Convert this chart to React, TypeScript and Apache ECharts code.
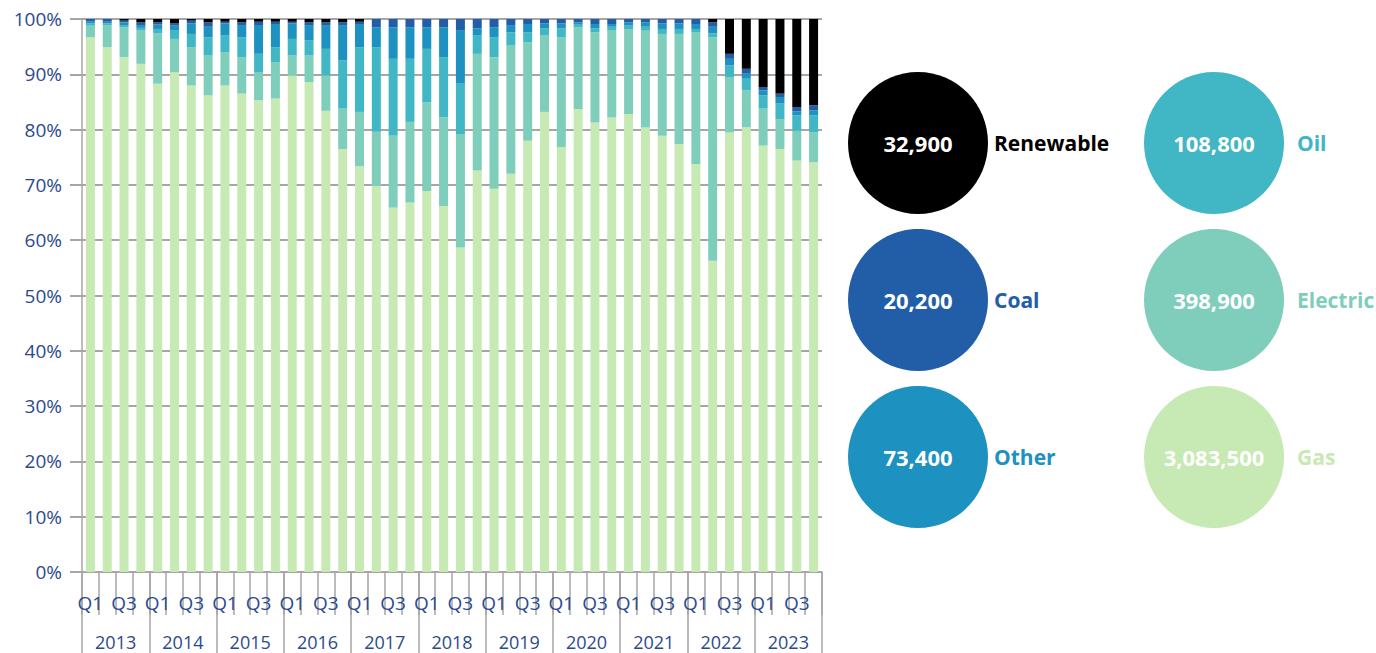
import React, { useEffect, useRef } from "react";
import * as echarts from "echarts";

const years = ["2013", "2014", "2015", "2016", "2017", "2018", "2019", "2020", "2021", "2022", "2023"];
const quarterLabels = [
  "Q1", "Q2", "Q3", "Q4", "Q1", "Q2", "Q3", "Q4", "Q1", "Q2", "Q3", "Q4",
  "Q1", "Q2", "Q3", "Q4", "Q1", "Q2", "Q3", "Q4", "Q1", "Q2", "Q3", "Q4",
  "Q1", "Q2", "Q3", "Q4", "Q1", "Q2", "Q3", "Q4", "Q1", "Q2", "Q3", "Q4",
  "Q1", "Q2", "Q3", "Q4", "Q1", "Q2", "Q3", "Q4",
];
const yTicks = [0, 10, 20, 30, 40, 50, 60, 70, 80, 90, 100];

// share of each quarter (%)
const gas = [96.7, 94.9, 93.1, 91.9, 88.3, 90.4, 88.0, 86.2, 88.0, 86.5, 85.3, 85.6, 89.8, 88.6, 83.4, 76.5, 73.4, 69.8, 65.9, 66.8, 68.9, 66.2, 58.7, 72.6, 69.3, 72.0, 78.0, 83.2, 76.8, 83.7, 81.3, 82.2, 82.8, 80.4, 78.9, 77.4, 73.8, 56.3, 79.5, 80.4, 77.1, 76.5, 74.4, 74.1];
const electric = [2.1, 4.0, 5.4, 6.1, 9.1, 6.0, 6.9, 7.2, 6.0, 6.6, 5.1, 6.6, 3.6, 4.8, 6.4, 7.3, 9.8, 9.8, 13.0, 14.6, 16.0, 16.0, 20.5, 21.1, 23.8, 23.2, 17.8, 13.8, 19.9, 14.8, 16.3, 15.8, 15.3, 17.5, 18.4, 19.9, 23.8, 40.4, 10.0, 6.7, 6.7, 5.4, 5.4, 5.4];
const oil = [0.4, 0.3, 0.4, 0.4, 0.8, 1.5, 2.4, 3.3, 3.0, 3.6, 3.3, 2.7, 3.0, 2.7, 4.8, 8.7, 11.7, 15.3, 13.9, 11.4, 9.7, 10.9, 9.1, 3.3, 3.6, 2.4, 1.8, 1.3, 1.6, 0.6, 0.7, 0.6, 0.7, 0.7, 0.9, 0.9, 0.6, 0.7, 2.1, 2.1, 2.4, 2.8, 2.8, 3.1];
const other = [0.4, 0.3, 0.5, 0.5, 0.8, 0.9, 1.9, 1.9, 2.2, 2.2, 5.2, 4.2, 2.8, 2.8, 4.3, 6.4, 4.2, 3.6, 5.7, 5.7, 3.9, 5.4, 9.7, 1.3, 1.8, 1.3, 1.5, 0.9, 0.9, 0.3, 0.8, 0.5, 0.6, 0.8, 1.0, 1.0, 0.9, 1.2, 1.2, 0.9, 0.9, 1.2, 0.7, 0.9];
const coal = [0.4, 0.5, 0.3, 0.5, 0.4, 0.4, 0.5, 0.8, 0.3, 0.5, 0.6, 0.4, 0.3, 0.5, 0.5, 0.5, 0.4, 1.5, 1.5, 1.5, 1.5, 1.5, 2.0, 1.7, 1.5, 1.1, 0.9, 0.8, 0.8, 0.6, 0.9, 0.9, 0.6, 0.6, 0.8, 0.8, 0.9, 0.8, 0.9, 0.9, 0.6, 0.6, 0.8, 0.9];
const renewable = [0, 0, 0.3, 0.6, 0.6, 0.8, 0.3, 0.6, 0.5, 0.6, 0.5, 0.5, 0.5, 0.6, 0.6, 0.6, 0.5, 0, 0, 0, 0, 0, 0, 0, 0, 0, 0, 0, 0, 0, 0, 0, 0, 0, 0, 0, 0, 0.6, 6.3, 9.0, 12.3, 13.5, 15.9, 15.6];

// totals shown in the circles
const totalNames = ["Renewable", "Coal", "Other", "Oil", "Electric", "Gas"];
const totalValues = [32900, 20200, 73400, 108800, 398900, 3083500];

const COLORS: Record<string, string> = {
  Gas: "#c7e9b4",
  Electric: "#7fcdbb",
  Oil: "#41b6c4",
  Other: "#1d91c0",
  Coal: "#225ea8",
  Renewable: "#000000",
};

const AXIS_TEXT = "#2b4a8e";
const GRID_GRAY = "#a6a6a6";
const FONT = "'Open Sans', 'Noto Sans', sans-serif";

export default function App() {
  const ref = useRef<HTMLDivElement>(null);

  useEffect(() => {
    if (!ref.current) return;
    const chart = echarts.init(ref.current, undefined, { renderer: "svg" });

    const seriesDefs: [string, number[]][] = [
      ["Gas", gas],
      ["Electric", electric],
      ["Oil", oil],
      ["Other", other],
      ["Coal", coal],
      ["Renewable", renewable],
    ];
    const totals = gas.map((_, i) => seriesDefs.reduce((s, [, arr]) => s + arr[i], 0));

    const series = seriesDefs.map(([name, arr]) => ({
      name,
      type: "bar",
      stack: "share",
      barWidth: 9,
      itemStyle: { color: COLORS[name] },
      data: arr.map((v, i) => (v / totals[i]) * 100),
    }));

    const colX = [918, 1214];
    const rowY = [143, 300, 457];
    const labelX = [994, 1297];
    const graphics: any[] = [];
    totalNames.forEach((name, k) => {
      const col = Math.floor(k / 3);
      const row = k % 3;
      const cx = colX[col];
      const cy = rowY[row];
      graphics.push({
        type: "ellipse",
        shape: { cx, cy, rx: 70, ry: 71 },
        style: { fill: COLORS[name] },
        silent: true,
      });
      graphics.push({
        type: "text",
        style: {
          text: totalValues[k].toLocaleString("en-US"),
          x: cx,
          y: cy,
          align: "center",
          verticalAlign: "middle",
          fill: "#ffffff",
          fontSize: 22,
          fontWeight: "bold",
          fontFamily: FONT,
        },
        silent: true,
      });
      graphics.push({
        type: "text",
        style: {
          text: name,
          x: labelX[col],
          y: cy,
          align: "left",
          verticalAlign: "middle",
          fill: COLORS[name],
          fontSize: 21,
          fontWeight: "bold",
          fontFamily: FONT,
        },
        silent: true,
      });
    });

    chart.setOption({
      animation: false,
      textStyle: { fontFamily: FONT },
      grid: { left: 82, right: 554, top: 19, bottom: 81, containLabel: false },
      xAxis: [
        {
          type: "category",
          data: quarterLabels,
          position: "bottom",
          boundaryGap: true,
          axisLine: { show: true, lineStyle: { color: GRID_GRAY, width: 1.5 } },
          axisTick: { show: true, interval: 0, length: 43, lineStyle: { color: GRID_GRAY, width: 1.5 } },
          axisLabel: { interval: 1, color: AXIS_TEXT, fontSize: 19, margin: 21, fontFamily: FONT },
          splitLine: { show: false },
        },
        {
          type: "category",
          data: years,
          position: "bottom",
          boundaryGap: true,
          axisLine: { show: false },
          axisTick: { show: true, interval: 0, length: 81, lineStyle: { color: GRID_GRAY, width: 1.5 } },
          axisLabel: {
            interval: 0,
            color: AXIS_TEXT,
            fontSize: 18,
            lineHeight: 18,
            margin: 61,
            fontFamily: FONT,
          },
          splitLine: { show: false },
        },
      ],
      yAxis: {
        type: "value",
        min: yTicks[0],
        max: yTicks[yTicks.length - 1],
        interval: 10,
        axisLine: { show: true, lineStyle: { color: GRID_GRAY, width: 1.5 } },
        axisTick: { show: true, length: 12, lineStyle: { color: GRID_GRAY, width: 2 } },
        axisLabel: { formatter: "{value}%", color: AXIS_TEXT, fontSize: 19, margin: 20, fontFamily: FONT },
        splitLine: { show: true, lineStyle: { color: GRID_GRAY, width: 2 } },
      },
      series,
      graphic: graphics,
    });

    return () => chart.dispose();
  }, []);

  return (
    <div
      ref={ref}
      style={{ position: "absolute", left: 0, top: 0, width: 1376, height: 653, background: "#ffffff" }}
    />
  );
}
